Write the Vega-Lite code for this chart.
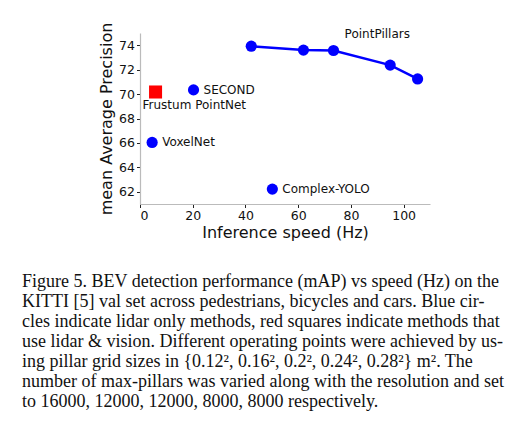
{
  "$schema": "https://vega.github.io/schema/vega-lite/v6.json",
  "autosize": {"type": "none"},
  "width": 290,
  "height": 171,
  "padding": {"left": 140, "top": 33, "right": 89, "bottom": 218},
  "background": "white",
  "title": {
    "text": [
      "Figure 5. BEV detection performance (mAP) vs speed (Hz) on the",
      "KITTI [5] val set across pedestrians, bicycles and cars.  Blue cir-",
      "cles indicate lidar only methods, red squares indicate methods that",
      "use lidar & vision. Different operating points were achieved by us-",
      "ing pillar grid sizes in {0.12², 0.16², 0.2², 0.24², 0.28²} m². The",
      "number of max-pillars was varied along with the resolution and set",
      "to 16000, 12000, 12000, 8000, 8000 respectively."
    ],
    "orient": "bottom",
    "anchor": "start",
    "frame": "group",
    "dx": -118,
    "offset": 33,
    "baseline": "top",
    "font": "Liberation Serif",
    "fontSize": 18,
    "fontWeight": "normal",
    "lineHeight": 20,
    "color": "#111"
  },
  "config": {
    "view": {"stroke": null},
    "font": "DejaVu Sans",
    "axis": {
      "grid": false,
      "domainColor": "#bbbbbb",
      "domainWidth": 1.2,
      "tickColor": "#222",
      "tickSize": 3.5,
      "labelFont": "DejaVu Sans",
      "labelFontSize": 12.5,
      "labelColor": "#111",
      "titleFont": "DejaVu Sans",
      "titleFontSize": 16,
      "titleFontWeight": "normal",
      "titleColor": "#111"
    }
  },
  "data": {
    "values": [
      {"method": "PointPillars", "speed": 42.2, "map": 73.92, "kind": "pp"},
      {"method": "PointPillars", "speed": 62.0, "map": 73.6, "kind": "pp"},
      {"method": "PointPillars", "speed": 73.4, "map": 73.57, "kind": "pp"},
      {"method": "PointPillars", "speed": 94.9, "map": 72.37, "kind": "pp"},
      {"method": "PointPillars", "speed": 105.3, "map": 71.24, "kind": "pp"},
      {"method": "SECOND", "speed": 20.3, "map": 70.34, "kind": "lidar"},
      {"method": "VoxelNet", "speed": 4.6, "map": 66.04, "kind": "lidar"},
      {"method": "Complex-YOLO", "speed": 50.2, "map": 62.22, "kind": "lidar"},
      {"method": "Frustum PointNet", "speed": 5.9, "map": 70.17, "kind": "vision"}
    ]
  },
  "encoding": {
    "x": {
      "field": "speed",
      "type": "quantitative",
      "title": "Inference speed (Hz)",
      "scale": {"domain": [0, 110], "nice": false, "zero": false},
      "axis": {"values": [0, 20, 40, 60, 80, 100], "titlePadding": 2, "labelPadding": 2}
    },
    "y": {
      "field": "map",
      "type": "quantitative",
      "title": "mean Average Precision",
      "scale": {"domain": [61, 75], "nice": false, "zero": false},
      "axis": {"values": [62, 64, 66, 68, 70, 72, 74], "titlePadding": 4, "labelPadding": 2}
    }
  },
  "layer": [
    {
      "transform": [{"filter": "datum.kind === 'pp'"}],
      "mark": {"type": "line", "color": "#0000ff", "strokeWidth": 2.5}
    },
    {
      "transform": [{"filter": "datum.kind !== 'vision'"}],
      "mark": {"type": "circle", "color": "#0000ff", "opacity": 1, "size": 125}
    },
    {
      "transform": [{"filter": "datum.kind === 'vision'"}],
      "mark": {"type": "square", "color": "#ff0000", "opacity": 1, "filled": true, "size": 170}
    },
    {
      "transform": [{"filter": "datum.kind === 'lidar'"}],
      "mark": {"type": "text", "align": "left", "baseline": "middle", "dx": 10, "fontSize": 12, "color": "#111", "font": "DejaVu Sans"},
      "encoding": {"text": {"field": "method"}}
    },
    {
      "transform": [{"filter": "datum.kind === 'vision'"}],
      "mark": {"type": "text", "align": "left", "baseline": "top", "dx": -13, "dy": 8, "fontSize": 12, "color": "#111", "font": "DejaVu Sans"},
      "encoding": {"text": {"field": "method"}}
    },
    {
      "transform": [{"filter": "datum.kind === 'pp' && datum.speed > 105"}],
      "mark": {"type": "text", "align": "left", "baseline": "middle", "dx": -73, "dy": -45, "fontSize": 12, "color": "#111", "font": "DejaVu Sans"},
      "encoding": {"text": {"field": "method"}}
    }
  ]
}
